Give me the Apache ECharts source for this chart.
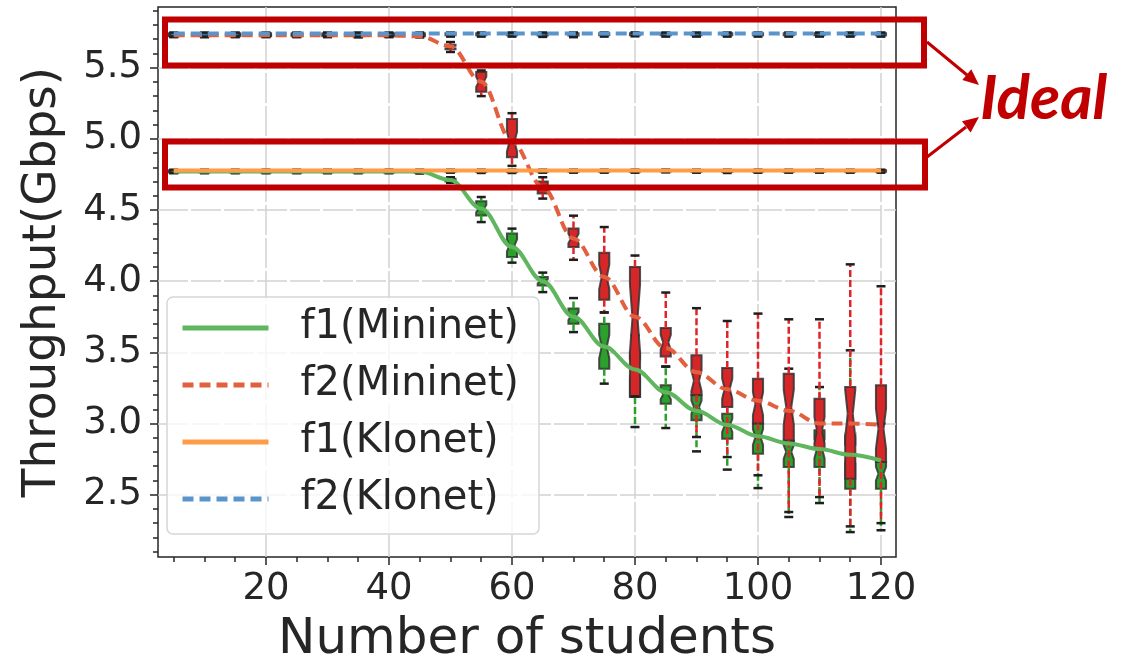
<!DOCTYPE html>
<html>
<head>
<meta charset="utf-8">
<script src="https://cdn.jsdelivr.net/npm/echarts@6/dist/echarts.min.js"></script>
<style>
  html, body { margin: 0; padding: 0; background: #fff; }
  #chart { width: 1122px; height: 664px; }
</style>
</head>
<body>
<div id="chart"></div>
<script>
const chart = echarts.init(document.getElementById("chart"));

// ==========================
// DATA
// ==========================

const X_VALUES = [5, 10, 15, 20, 25, 30, 35, 40, 45, 50, 55, 60,
                  65, 70, 75, 80, 85, 90, 95, 100, 105, 110, 115, 120];

// smoothed curves
const F1_MININET_LINE = [4.77, 4.77, 4.77, 4.77, 4.77, 4.77, 4.77, 4.77, 4.77, 4.71, 4.51, 4.24,
                         4.00, 3.75, 3.54, 3.38, 3.22, 3.09, 2.99, 2.91, 2.86, 2.82, 2.78, 2.74];
const F2_MININET_LINE = [5.727, 5.727, 5.727, 5.727, 5.727, 5.727, 5.727, 5.727, 5.72, 5.65, 5.40, 4.98,
                         4.66, 4.30, 4.03, 3.75, 3.53, 3.36, 3.24, 3.16, 3.09, 3.00, 3.00, 2.99];
const F1_KLONET_LINE = [4.777, 4.777, 4.777, 4.777, 4.777, 4.777, 4.777, 4.777, 4.777, 4.777, 4.777, 4.777,
                        4.777, 4.777, 4.777, 4.777, 4.777, 4.777, 4.777, 4.777, 4.777, 4.777, 4.777, 4.777];
const F2_KLONET_LINE = [5.739, 5.739, 5.739, 5.739, 5.739, 5.739, 5.739, 5.739, 5.739, 5.739, 5.739, 5.739,
                        5.739, 5.739, 5.739, 5.739, 5.739, 5.739, 5.739, 5.739, 5.739, 5.739, 5.739, 5.739];

// boxes: [min, q1, median, q3, max] per x
const F1_MININET_BOX = [
  [4.758, 4.763, 4.768, 4.773, 4.778], [4.758, 4.763, 4.768, 4.773, 4.778],
  [4.758, 4.763, 4.768, 4.773, 4.778], [4.758, 4.763, 4.768, 4.773, 4.778],
  [4.758, 4.763, 4.768, 4.773, 4.778], [4.758, 4.763, 4.768, 4.773, 4.778],
  [4.758, 4.763, 4.768, 4.773, 4.778], [4.758, 4.763, 4.768, 4.773, 4.778],
  [4.756, 4.762, 4.767, 4.772, 4.778], [4.69, 4.70, 4.71, 4.72, 4.73],
  [4.415, 4.462, 4.509, 4.561, 4.591], [4.13, 4.169, 4.251, 4.334, 4.369],
  [3.923, 3.97, 3.999, 4.029, 4.06], [3.642, 3.701, 3.755, 3.807, 3.881],
  [3.28, 3.385, 3.54, 3.70, 3.78], [2.975, 3.186, 3.39, 3.455, 3.62],
  [2.968, 3.139, 3.204, 3.268, 3.40], [2.804, 3.022, 3.115, 3.198, 3.35],
  [2.676, 2.893, 2.987, 3.069, 3.20], [2.546, 2.788, 2.905, 3.00, 3.20],
  [2.343, 2.694, 2.80, 2.881, 3.385], [2.441, 2.694, 2.823, 2.952, 3.256],
  [2.237, 2.542, 2.80, 2.85, 3.514], [2.25, 2.542, 2.647, 2.729, 3.00]
];
const F2_MININET_BOX = [
  [5.714, 5.72, 5.727, 5.733, 5.74], [5.714, 5.72, 5.727, 5.733, 5.74],
  [5.714, 5.72, 5.727, 5.733, 5.74], [5.714, 5.72, 5.727, 5.733, 5.74],
  [5.714, 5.72, 5.727, 5.733, 5.74], [5.714, 5.72, 5.727, 5.733, 5.74],
  [5.714, 5.72, 5.727, 5.733, 5.74], [5.714, 5.72, 5.727, 5.733, 5.74],
  [5.712, 5.72, 5.726, 5.733, 5.74], [5.61, 5.63, 5.645, 5.66, 5.68],
  [5.30, 5.33, 5.40, 5.47, 5.48], [4.81, 4.87, 4.98, 5.14, 5.18],
  [4.58, 4.615, 4.657, 4.70, 4.73], [4.15, 4.24, 4.30, 4.37, 4.46],
  [3.78, 3.87, 4.03, 4.20, 4.38], [3.19, 3.19, 3.74, 4.10, 4.18],
  [3.40, 3.47, 3.57, 3.67, 3.92], [2.905, 3.20, 3.30, 3.48, 3.81],
  [2.764, 3.115, 3.244, 3.39, 3.72], [2.636, 3.00, 3.139, 3.315, 3.772],
  [2.378, 2.88, 3.115, 3.35, 3.732], [2.483, 2.82, 2.952, 3.174, 3.732],
  [2.277, 2.612, 3.069, 3.256, 4.118], [2.30, 2.729, 2.963, 3.268, 3.964]
];
const F1_KLONET_BOX = [
  [4.762, 4.768, 4.774, 4.779, 4.783], [4.762, 4.768, 4.774, 4.779, 4.783],
  [4.762, 4.768, 4.774, 4.779, 4.783], [4.762, 4.768, 4.774, 4.779, 4.783],
  [4.762, 4.768, 4.774, 4.779, 4.783], [4.762, 4.768, 4.774, 4.779, 4.783],
  [4.762, 4.768, 4.774, 4.779, 4.783], [4.762, 4.768, 4.774, 4.779, 4.783],
  [4.762, 4.768, 4.774, 4.779, 4.783], [4.762, 4.768, 4.774, 4.779, 4.783],
  [4.760, 4.767, 4.773, 4.779, 4.783], [4.760, 4.767, 4.773, 4.779, 4.783],
  [4.762, 4.768, 4.774, 4.779, 4.783], [4.762, 4.768, 4.774, 4.779, 4.783],
  [4.762, 4.768, 4.774, 4.779, 4.783], [4.762, 4.768, 4.774, 4.779, 4.783],
  [4.764, 4.770, 4.775, 4.780, 4.784], [4.762, 4.768, 4.774, 4.779, 4.783],
  [4.760, 4.767, 4.773, 4.779, 4.783], [4.762, 4.768, 4.774, 4.779, 4.783],
  [4.762, 4.768, 4.774, 4.779, 4.783], [4.762, 4.768, 4.774, 4.779, 4.783],
  [4.762, 4.768, 4.774, 4.779, 4.783], [4.762, 4.768, 4.774, 4.779, 4.783]
];
const F2_KLONET_BOX = [
  [5.718, 5.727, 5.734, 5.741, 5.747], [5.716, 5.726, 5.733, 5.741, 5.747],
  [5.718, 5.727, 5.734, 5.741, 5.747], [5.718, 5.727, 5.734, 5.741, 5.747],
  [5.718, 5.727, 5.734, 5.741, 5.747], [5.718, 5.727, 5.734, 5.741, 5.747],
  [5.714, 5.725, 5.733, 5.741, 5.747], [5.718, 5.727, 5.734, 5.741, 5.747],
  [5.718, 5.727, 5.734, 5.741, 5.747], [5.718, 5.727, 5.734, 5.741, 5.747],
  [5.718, 5.727, 5.734, 5.741, 5.747], [5.718, 5.727, 5.734, 5.741, 5.747],
  [5.716, 5.726, 5.733, 5.741, 5.747], [5.714, 5.725, 5.733, 5.741, 5.747],
  [5.718, 5.727, 5.734, 5.741, 5.747], [5.720, 5.728, 5.735, 5.742, 5.748],
  [5.718, 5.727, 5.734, 5.741, 5.747], [5.718, 5.727, 5.734, 5.741, 5.747],
  [5.718, 5.727, 5.734, 5.741, 5.747], [5.718, 5.727, 5.734, 5.741, 5.747],
  [5.718, 5.727, 5.734, 5.741, 5.747], [5.718, 5.727, 5.734, 5.741, 5.747],
  [5.718, 5.727, 5.734, 5.741, 5.747], [5.718, 5.727, 5.734, 5.741, 5.747]
];

const X_MAJOR_TICKS = [20, 40, 60, 80, 100, 120];
const X_MINOR_TICKS = [5, 10, 15, 25, 30, 35, 45, 50, 55, 65, 70, 75,
                       85, 90, 95, 105, 110, 115];
const Y_MAJOR_TICKS = [2.5, 3.0, 3.5, 4.0, 4.5, 5.0, 5.5];
const Y_MINOR_TICKS = [2.1, 2.2, 2.3, 2.4, 2.6, 2.7, 2.8, 2.9, 3.1, 3.2, 3.3, 3.4,
                       3.6, 3.7, 3.8, 3.9, 4.1, 4.2, 4.3, 4.4, 4.6, 4.7, 4.8, 4.9,
                       5.1, 5.2, 5.3, 5.4, 5.6, 5.7, 5.8, 5.9];

const X_MIN = 2.44, X_MAX = 122.44;
const Y_MIN = 2.062, Y_MAX = 5.926;

// ==========================
// STYLE
// ==========================

const FONT = "DejaVu Sans";
const TEXT = "#262626";
const BOX_W = 1.65;      // x units
const NOTCH_K = 0.26;    // notch half height as share of IQR

const boxRows = (stats) => stats.map((s, i) => [X_VALUES[i]].concat(s));
const linePts = (vals) => vals.map((v, i) => [X_VALUES[i], v]);

function boxRenderer(fill, whisker) {
  return function (params, api) {
    const x = api.value(0);
    const lo = api.value(1), q1 = api.value(2), md = api.value(3),
          q3 = api.value(4), hi = api.value(5);
    const half = api.size([BOX_W, 0])[0] / 2;
    const cx = api.coord([x, md])[0];
    const y = (v) => api.coord([x, v])[1];
    const iqr = q3 - q1;
    const nlo = md - NOTCH_K * iqr, nhi = md + NOTCH_K * iqr;
    const poly = [
      [cx - half, y(q1)], [cx + half, y(q1)], [cx + half, y(nlo)],
      [cx + half / 2, y(md)], [cx + half, y(nhi)], [cx + half, y(q3)],
      [cx - half, y(q3)], [cx - half, y(nhi)], [cx - half / 2, y(md)],
      [cx - half, y(nlo)]
    ];
    const capHalf = 4.5;
    const dash = { stroke: whisker, lineWidth: 2.5, lineDash: [7, 3] };
    const cap = { stroke: "#1e1e1e", lineWidth: 2.5 };
    return {
      type: "group",
      children: [
        { type: "polygon", shape: { points: poly },
          style: { fill: fill, stroke: "rgba(50,50,50,0.85)", lineWidth: 2 } },
        { type: "line", shape: { x1: cx - half / 2, y1: y(md), x2: cx + half / 2, y2: y(md) },
          style: { stroke: fill, lineWidth: 2 } },
        { type: "line", shape: { x1: cx, y1: y(q3), x2: cx, y2: y(hi) }, style: dash },
        { type: "line", shape: { x1: cx, y1: y(q1), x2: cx, y2: y(lo) }, style: dash },
        { type: "line", shape: { x1: cx - capHalf, y1: y(hi), x2: cx + capHalf, y2: y(hi) }, style: cap },
        { type: "line", shape: { x1: cx - capHalf, y1: y(lo), x2: cx + capHalf, y2: y(lo) }, style: cap }
      ]
    };
  };
}

const gridLine = { show: true, lineStyle: { color: "#d2d2d2", width: 1.5, type: [30, 3] } };
const tickLine = { color: TEXT, width: 1.5 };

// ==========================
// OPTION
// ==========================

chart.setOption({
  animation: false,
  grid: {
    left: 158, right: 226, top: 7, bottom: 107,
    show: true, borderColor: TEXT, borderWidth: 1.5,
    backgroundColor: "transparent",
    outerBoundsMode: "none"
  },
  xAxis: [
    {
      type: "value", min: X_MIN, max: X_MAX, position: "bottom",
      axisLine: { show: false },
      axisTick: { show: true, customValues: X_MAJOR_TICKS, length: 8, lineStyle: tickLine },
      axisLabel: { customValues: X_MAJOR_TICKS, fontSize: 37, fontFamily: FONT, color: TEXT, margin: 14 },
      splitLine: gridLine,
      name: "Number of students", nameLocation: "middle", nameGap: 58,
      nameMoveOverlap: false,
      nameTextStyle: { fontSize: 50, fontFamily: FONT, color: TEXT }
    },
    {
      type: "value", min: X_MIN, max: X_MAX, position: "bottom",
      axisLine: { show: false },
      axisTick: { show: true, customValues: X_MINOR_TICKS, length: 5, lineStyle: tickLine },
      axisLabel: { show: false },
      splitLine: { show: false }
    }
  ],
  yAxis: [
    {
      type: "value", min: Y_MIN, max: Y_MAX, position: "left",
      axisLine: { show: false },
      axisTick: { show: true, customValues: Y_MAJOR_TICKS, length: 8, lineStyle: tickLine },
      axisLabel: { customValues: Y_MAJOR_TICKS, fontSize: 37, fontFamily: FONT, color: TEXT, margin: 16,
                   formatter: (v) => v.toFixed(1) },
      splitLine: gridLine,
      name: "Throughput(Gbps)", nameLocation: "middle", nameGap: 92, nameRotate: 90,
      nameMoveOverlap: false,
      nameTextStyle: { fontSize: 47, fontFamily: FONT, color: TEXT }
    },
    {
      type: "value", min: Y_MIN, max: Y_MAX, position: "left",
      axisLine: { show: false },
      axisTick: { show: true, customValues: Y_MINOR_TICKS, length: 5, lineStyle: tickLine },
      axisLabel: { show: false },
      splitLine: { show: false }
    }
  ],
  legend: {
    orient: "vertical",
    left: 167, top: 297,
    padding: [11, 20, 15, 13],
    itemWidth: 86, itemHeight: 20, itemGap: 17,
    backgroundColor: "rgba(255,255,255,0.8)",
    borderColor: "#d6d6d6", borderWidth: 1.5, borderRadius: 6,
    itemStyle: { opacity: 0 },
    lineStyle: { width: 5 },
    data: ["f1(Mininet)", "f2(Mininet)", "f1(Klonet)", "f2(Klonet)"],
    formatter: "{a|{name}}",
    textStyle: {
      fontSize: 40, fontFamily: FONT, color: TEXT,
      rich: { a: { fontSize: 40, fontFamily: FONT, color: TEXT, lineHeight: 44, padding: [0, 0, 0, 27] } }
    }
  },
  series: [
    { type: "custom", name: "box-f1m", z: 2, renderItem: boxRenderer("#2ca02c", "#2ca02c"),
      data: boxRows(F1_MININET_BOX), encode: { x: 0, y: [1, 2, 3, 4, 5] } },
    { type: "custom", name: "box-f2m", z: 2, renderItem: boxRenderer("#d62728", "#e0242a"),
      data: boxRows(F2_MININET_BOX), encode: { x: 0, y: [1, 2, 3, 4, 5] } },
    { type: "custom", name: "box-f1k", z: 2, renderItem: boxRenderer("#ff7f0e", "#ff7f0e"),
      data: boxRows(F1_KLONET_BOX), encode: { x: 0, y: [1, 2, 3, 4, 5] } },
    { type: "custom", name: "box-f2k", z: 2, renderItem: boxRenderer("#1f77b4", "#1f77b4"),
      data: boxRows(F2_KLONET_BOX), encode: { x: 0, y: [1, 2, 3, 4, 5] } },
    { type: "line", name: "f1(Mininet)", z: 4, data: linePts(F1_MININET_LINE),
      smooth: 0.35, smoothMonotone: "x", symbol: "none", color: "#5fb65f",
      lineStyle: { color: "#5fb65f", width: 4 } },
    { type: "line", name: "f2(Mininet)", z: 4, data: linePts(F2_MININET_LINE),
      smooth: 0.35, smoothMonotone: "x", symbol: "none", color: "#e2603f",
      lineStyle: { color: "#e2603f", width: 4, type: [11, 6] } },
    { type: "line", name: "f1(Klonet)", z: 4, data: linePts(F1_KLONET_LINE),
      symbol: "none", color: "#ff9c47",
      lineStyle: { color: "#ff9c47", width: 4 } },
    { type: "line", name: "f2(Klonet)", z: 4, data: linePts(F2_KLONET_LINE),
      symbol: "none", color: "#5b93cb",
      lineStyle: { color: "#5b93cb", width: 4, type: [11, 6] } }
  ],
  graphic: [
    { type: "rect", z: 100, shape: { x: 165, y: 19.5, width: 759, height: 46 },
      style: { fill: "none", stroke: "#c00000", lineWidth: 6 } },
    { type: "rect", z: 100, shape: { x: 165, y: 141.5, width: 760, height: 46 },
      style: { fill: "none", stroke: "#c00000", lineWidth: 6 } },
    { type: "line", z: 100, shape: { x1: 927, y1: 42, x2: 967, y2: 75 },
      style: { stroke: "#c00000", lineWidth: 3 } },
    { type: "polygon", z: 100, shape: { points: [[979, 85], [962.3, 80.1], [971.3, 69.3]] },
      style: { fill: "#c00000" } },
    { type: "line", z: 100, shape: { x1: 927, y1: 157, x2: 966, y2: 127 },
      style: { stroke: "#c00000", lineWidth: 3 } },
    { type: "polygon", z: 100, shape: { points: [[979, 117], [970.6, 132.4], [962.0, 121.2]] },
      style: { fill: "#c00000" } },
    { type: "text", z: 100, x: 980, y: 99,
      style: { text: "Ideal", fill: "#c00000", font: "italic bold 62px Lato",
               textAlign: "left", textVerticalAlign: "middle" } }
  ]
});
</script>
</body>
</html>
